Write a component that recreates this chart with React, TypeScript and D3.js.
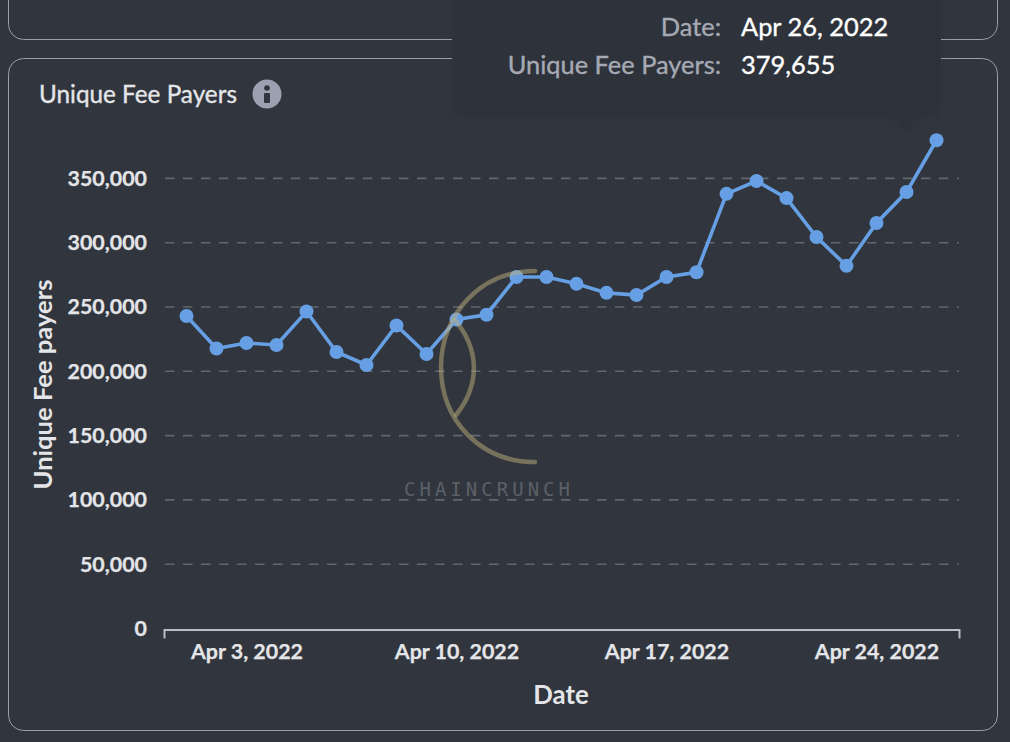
import React, { useEffect, useRef } from "react";
import * as d3 from "d3";

const days = d3.range(1, 27).map((d) => new Date(2022, 3, d));
const payers = [
  243000, 217700, 222000, 220500, 246500, 215000, 204900, 235600, 213500, 240300, 244000, 273300, 273300,
  268000, 261000, 259300, 273300, 277000, 338000, 348000, 334700, 304400, 282000, 315300, 339400, 379655,
];
const yTicks = [0, 50000, 100000, 150000, 200000, 250000, 300000, 350000];
const xTickDays = [3, 10, 17, 24];
const tooltipLabels = ["Date:", "Unique Fee Payers:"];
const tooltipValues = ["Apr 26, 2022", "379,655"];

const BG = "#31353d";
const BORDER = "#9a9ea8";
const TEXT = "#e4e5e8";
const BLUE = "#669fe3";
const FONT = "Lato, 'Open Sans', sans-serif";

const fmtDate = d3.timeFormat("%b %-d, %Y");

export default function App() {
  const xAxisRef = useRef<SVGGElement>(null);
  const yAxisRef = useRef<SVGGElement>(null);

  const x = d3.scalePoint<Date>().domain(days).range([164, 959]).padding(0.75);
  const y = d3.scaleLinear().domain([0, 350000]).range([628.5, 178.4]);

  const line = d3
    .line<number>()
    .x((_, i) => x(days[i])!)
    .y((d) => y(d));

  useEffect(() => {
    const xAxis = d3
      .axisBottom(x)
      .tickValues(xTickDays.map((d) => days[d - 1]))
      .tickFormat((d) => fmtDate(d as Date))
      .tickSizeInner(0)
      .tickSizeOuter(9)
      .tickPadding(14);
    const xg = d3.select(xAxisRef.current!).call(xAxis as any);
    xg.select(".domain").attr("stroke", "#b9bcc4").attr("stroke-width", 2);
    xg.selectAll("text")
      .attr("fill", TEXT)
      .attr("stroke", TEXT)
      .attr("stroke-width", 0.25)
      .attr("font-family", FONT)
      .attr("font-weight", 700)
      .attr("font-size", 21.4);

    const yAxis = d3.axisLeft(y).tickValues(yTicks).tickFormat(d3.format(",")).tickSize(0).tickPadding(17);
    const yg = d3.select(yAxisRef.current!).call(yAxis as any);
    yg.select(".domain").remove();
    yg.selectAll("text")
      .attr("fill", TEXT)
      .attr("stroke", TEXT)
      .attr("stroke-width", 0.25)
      .attr("font-family", FONT)
      .attr("font-weight", 700)
      .attr("font-size", 21.4);
  }, []);

  return (
    <svg
      width={1010}
      height={742}
      style={{ position: "absolute", left: 0, top: 0, display: "block", background: BG }}
    >
      <defs>
        <filter id="tipShadow" x="-10%" y="-30%" width="120%" height="160%">
          <feDropShadow dx="0" dy="2" stdDeviation="5" floodColor="#000" floodOpacity="0.05" />
        </filter>
      </defs>

      {/* panels */}
      <rect x={8.5} y={-30} width={989} height={69.5} rx={15} fill="none" stroke={BORDER} />
      <rect x={8.5} y={58.5} width={989} height={672} rx={15} fill="none" stroke={BORDER} />

      {/* title */}
      <text
        x={39}
        y={102.5}
        fill={TEXT}
        stroke={TEXT}
        strokeWidth={0.35}
        fontFamily={FONT}
        fontSize={24.3}
        fontWeight={400}
      >
        Unique Fee Payers
      </text>
      <circle cx={267} cy={94} r={14.5} fill="#9ba1b0" />
      <circle cx={267} cy={88} r={2.8} fill={BG} />
      <rect x={264} y={93} width={6} height={10} rx={1} fill={BG} />

      {/* gridlines */}
      {yTicks.slice(1).map((t) => (
        <line
          key={t}
          x1={165}
          x2={959}
          y1={y(t)}
          y2={y(t)}
          stroke="#62666e"
          strokeWidth={1.6}
          strokeDasharray="9.5 8.5"
        />
      ))}

      <g ref={xAxisRef} transform={`translate(0,${y(0) + 1})`} />
      <g ref={yAxisRef} transform="translate(164,0)" />

      <text x={561} y={704} textAnchor="middle" fill={TEXT} fontFamily={FONT} fontSize={25.8} fontWeight={700}>
        Date
      </text>
      <text
        transform="translate(52,384.5) rotate(-90)"
        textAnchor="middle"
        fill={TEXT}
        fontFamily={FONT}
        fontSize={25.6}
        fontWeight={700}
      >
        Unique Fee payers
      </text>

      {/* series */}
      <path d={line(payers) ?? ""} fill="none" stroke={BLUE} strokeWidth={3.6} />
      {payers.map((v, i) => (
        <circle key={i} cx={x(days[i])} cy={y(v)} r={7} fill={BLUE} />
      ))}

      {/* watermark */}
      <g fill="none" stroke="#bdb07c" strokeOpacity={0.5} strokeWidth={4.5} strokeLinecap="round">
        <path d="M535,271 C480,271 441,315 441,367 C441,420 480,462 535,462" />
        <path d="M455,320 C480,350 480,385 456,415" />
      </g>
      <text
        x={404}
        y={496}
        textLength={166}
        lengthAdjust="spacing"
        fill="#5c6068"
        fontFamily="'DejaVu Sans Mono', monospace"
        fontSize={19}
      >
        CHAINCRUNCH
      </text>

      {/* tooltip */}
      <path
        d="M452,-10 H941 V106 a11,11 0 0 1 -11,11 H916 L905,131 L894,117 H463 a11,11 0 0 1 -11,-11 Z"
        fill="#2f333a"
        filter="url(#tipShadow)"
      />
      {tooltipLabels.map((t, i) => (
        <text
          key={t}
          x={721}
          y={35.5 + i * 38.5}
          textAnchor="end"
          fill="#a6aab4"
          stroke="#a6aab4"
          strokeWidth={0.35}
          fontFamily={FONT}
          fontSize={25.4}
          fontWeight={400}
        >
          {t}
        </text>
      ))}
      {tooltipValues.map((t, i) => (
        <text
          key={t}
          x={741}
          y={35.5 + i * 38.5}
          fill="#ffffff"
          stroke="#ffffff"
          strokeWidth={0.35}
          fontFamily={FONT}
          fontSize={25.4}
          fontWeight={400}
        >
          {t}
        </text>
      ))}
    </svg>
  );
}
